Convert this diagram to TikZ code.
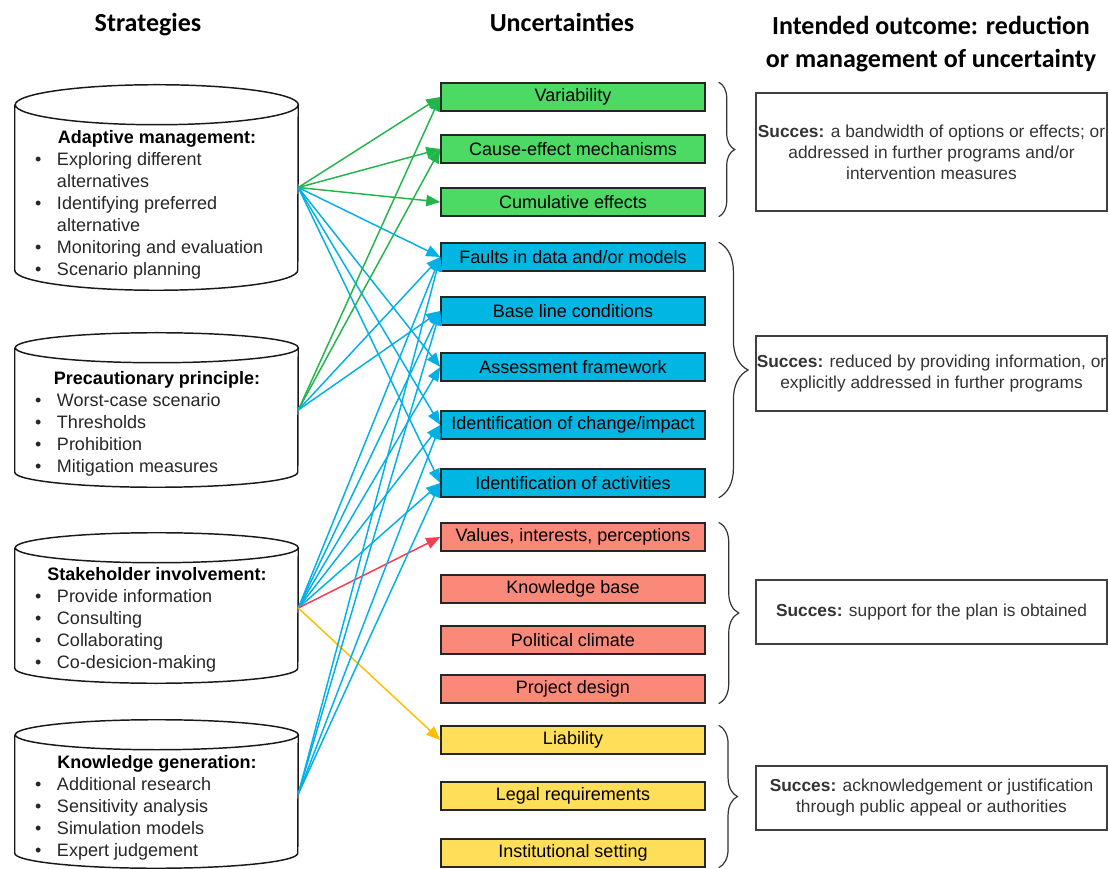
\documentclass[tikz,border=0pt]{standalone}
\usepackage{fontspec}
\setmainfont{Liberation Sans}
\newfontfamily\headfont{Carlito}
\usepackage{xcolor}
\usepackage{tikz}
\usetikzlibrary{positioning,arrows.meta,decorations.pathreplacing}

\definecolor{grfill}{RGB}{76,217,100}
\definecolor{blfill}{RGB}{0,183,228}
\definecolor{rdfill}{RGB}{250,137,122}
\definecolor{ylfill}{RGB}{255,222,89}
\definecolor{grline}{RGB}{34,181,76}
\definecolor{blline}{RGB}{0,176,230}
\definecolor{rdline}{RGB}{250,60,80}
\definecolor{ylline}{RGB}{255,190,0}

\tikzset{
  heading/.style={font=\headfont\bfseries\fontsize{19.5}{24.75}\selectfont, align=center},
  strategy/.style={rectangle, minimum width=212.25pt, inner sep=0pt},
  cylline/.style={line width=1.1pt, draw=black!90},
  strattext/.style={font=\fontsize{13.5}{16.5}\selectfont, text=black!85, inner sep=0pt},
  uncert/.style={draw=black!85, line width=1.1pt, minimum width=198pt, minimum height=21pt,
    inner sep=0pt, font=\fontsize{13.5}{16}\selectfont},
  outcome/.style={draw=black!75, line width=1.1pt, minimum width=263.25pt, align=center,
    inner sep=0pt, text=black!80, font=\fontsize{13}{15.75}\selectfont},
  conn/.style={-{Triangle[length=10.5pt,width=8.5pt]}, line width=1.1pt},
  grp/.style={decorate, line width=0.9pt, draw=black!80}
}

\begin{document}
\begin{tikzpicture}[x=0.75pt,y=0.75pt]
  \useasboundingbox (0,0) rectangle (1109,868);

  % column titles
  \node[heading, anchor=base] (Stra) at (148,836) {Strategies};
  \node[heading, anchor=base] (Unce) at (562,836) {Uncertainties};
  \node[heading] (Outc) at (931,824) {Intended outcome: reduction\\or management of uncertainty};

  % strategies (cylinders drawn around the nodes)
  \node[strategy, minimum height=153.75pt] (AdMa) at (156.5,680.5) {};
  \node[strategy, minimum height=115.5pt] (PrPr) at (156.5,458) {};
  \node[strategy, minimum height=112.5pt] (StIn) at (156.5,260) {};
  \node[strategy, minimum height=111pt] (KnGe) at (156.5,74) {};

  \draw[cylline] ([yshift=-15pt]AdMa.north west) -- ([yshift=15pt]AdMa.south west)
    arc[start angle=180, end angle=360, x radius=106.125pt, y radius=15pt]
    -- ([yshift=-15pt]AdMa.north east)
    arc[start angle=0, end angle=360, x radius=106.125pt, y radius=15pt];
  \draw[cylline] ([yshift=-11.25pt]PrPr.north west) -- ([yshift=11.25pt]PrPr.south west)
    arc[start angle=180, end angle=360, x radius=106.125pt, y radius=11.25pt]
    -- ([yshift=-11.25pt]PrPr.north east)
    arc[start angle=0, end angle=360, x radius=106.125pt, y radius=11.25pt];
  \draw[cylline] ([yshift=-11.25pt]StIn.north west) -- ([yshift=11.25pt]StIn.south west)
    arc[start angle=180, end angle=360, x radius=106.125pt, y radius=11.25pt]
    -- ([yshift=-11.25pt]StIn.north east)
    arc[start angle=0, end angle=360, x radius=106.125pt, y radius=11.25pt];
  \draw[cylline] ([yshift=-11.25pt]KnGe.north west) -- ([yshift=11.25pt]KnGe.south west)
    arc[start angle=180, end angle=360, x radius=106.125pt, y radius=11.25pt]
    -- ([yshift=-11.25pt]KnGe.north east)
    arc[start angle=0, end angle=360, x radius=106.125pt, y radius=11.25pt];

  \node[strattext] (AdMaT) at (157,663) {%
    \begin{tabular}{@{}p{7.5pt}@{\hspace{9pt}}p{166.5pt}@{}}
    \multicolumn{2}{c}{\textcolor{black}{\textbf{Adaptive management:}}}\\
    \textbullet & Exploring different\\
     & alternatives\\
    \textbullet & Identifying preferred\\
     & alternative\\
    \textbullet & Monitoring and evaluation\\
    \textbullet & Scenario planning
    \end{tabular}};
  \node[strattext] (PrPrT) at (157,444) {%
    \begin{tabular}{@{}p{7.5pt}@{\hspace{9pt}}p{166.5pt}@{}}
    \multicolumn{2}{c}{\textcolor{black}{\textbf{Precautionary principle:}}}\\
    \textbullet & Worst-case scenario\\
    \textbullet & Thresholds\\
    \textbullet & Prohibition\\
    \textbullet & Mitigation measures
    \end{tabular}};
  \node[strattext] (StInT) at (157,248) {%
    \begin{tabular}{@{}p{7.5pt}@{\hspace{9pt}}p{166.5pt}@{}}
    \multicolumn{2}{c}{\textcolor{black}{\textbf{Stakeholder involvement:}}}\\
    \textbullet & Provide information\\
    \textbullet & Consulting\\
    \textbullet & Collaborating\\
    \textbullet & Co-desicion-making
    \end{tabular}};
  \node[strattext] (KnGeT) at (157,60) {%
    \begin{tabular}{@{}p{7.5pt}@{\hspace{9pt}}p{166.5pt}@{}}
    \multicolumn{2}{c}{\textcolor{black}{\textbf{Knowledge generation:}}}\\
    \textbullet & Additional research\\
    \textbullet & Sensitivity analysis\\
    \textbullet & Simulation models\\
    \textbullet & Expert judgement
    \end{tabular}};

  % uncertainties
  \node[uncert, fill=grfill] (Vari) at (573,771) {Variability};
  \node[uncert, fill=grfill] (CaEf) at (573,719) {Cause-effect mechanisms};
  \node[uncert, fill=grfill] (Cumu) at (573,666) {Cumulative effects};

  \node[uncert, fill=blfill] (Faul) at (573,611) {Faults in data and/or models};
  \node[uncert, fill=blfill] (Base) at (573,557) {Base line conditions};
  \node[uncert, fill=blfill] (Asse) at (573,501) {Assessment framework};
  \node[uncert, fill=blfill] (IdCh) at (573,443) {Identification of change/impact};
  \node[uncert, fill=blfill] (IdAc) at (573,385) {Identification of activities};

  \node[uncert, fill=rdfill] (Valu) at (573,331) {Values, interests, perceptions};
  \node[uncert, fill=rdfill] (Know) at (573,279) {Knowledge base};
  \node[uncert, fill=rdfill] (Poli) at (573,228) {Political climate};
  \node[uncert, fill=rdfill] (Proj) at (573,179) {Project design};

  \node[uncert, fill=ylfill] (Liab) at (573,128) {Liability};
  \node[uncert, fill=ylfill] (Lega) at (573,72) {Legal requirements};
  \node[uncert, fill=ylfill] (Inst) at (573,15) {Institutional setting};

  % outcomes
  \node[outcome, minimum height=88.5pt] (SuVa) at (931.5,716) {\textbf{Succes:} a bandwidth of options or effects; or\\addressed in further programs and/or\\intervention measures};
  \node[outcome, minimum height=56.25pt] (SuFa) at (931.5,494.5) {\textbf{Succes:} reduced by providing information, or\\explicitly addressed in further programs};
  \node[outcome, minimum height=48pt] (SuVl) at (931.5,256) {\textbf{Succes:} support for the plan is obtained};
  \node[outcome, minimum height=48pt] (SuLi) at (931.5,70) {\textbf{Succes:} acknowledgement or justification\\through public appeal or authorities};

  % braces
  \draw[grp, decoration={brace, amplitude=12pt}] ([xshift=9.75pt]Vari.north east) -- ([xshift=9.75pt]Cumu.south east);
  \draw[grp, decoration={brace, amplitude=22pt}] ([xshift=9.75pt]Faul.north east) -- ([xshift=9.75pt]IdAc.south east);
  \draw[grp, decoration={brace, amplitude=15pt}] ([xshift=9.75pt]Valu.north east) -- ([xshift=9.75pt]Proj.south east);
  \draw[grp, decoration={brace, amplitude=14pt}] ([xshift=9.75pt]Liab.north east) -- ([xshift=9.75pt]Inst.south east);

  % adaptive management
  \draw[conn,draw=grline,fill=grline] (AdMa.east) to (Vari.west);
  \draw[conn,draw=grline,fill=grline] (AdMa.east) to (CaEf.west);
  \draw[conn,draw=grline,fill=grline] (AdMa.east) to (Cumu.west);
  \draw[conn,draw=blline,fill=blline] (AdMa.east) to (Faul.west);
  \draw[conn,draw=blline,fill=blline] (AdMa.east) to (Asse.west);
  \draw[conn,draw=blline,fill=blline] (AdMa.east) to (IdCh.west);
  \draw[conn,draw=blline,fill=blline] (AdMa.east) to (IdAc.west);

  % precautionary principle
  \draw[conn,draw=grline,fill=grline] (PrPr.east) to (Vari.west);
  \draw[conn,draw=grline,fill=grline] (PrPr.east) to (CaEf.west);
  \draw[conn,draw=blline,fill=blline] (PrPr.east) to (Faul.west);
  \draw[conn,draw=blline,fill=blline] (PrPr.east) to (Base.west);

  % stakeholder involvement
  \draw[conn,draw=blline,fill=blline] (StIn.east) to (Faul.west);
  \draw[conn,draw=blline,fill=blline] (StIn.east) to (Base.west);
  \draw[conn,draw=blline,fill=blline] (StIn.east) to (Asse.west);
  \draw[conn,draw=blline,fill=blline] (StIn.east) to (IdCh.west);
  \draw[conn,draw=blline,fill=blline] (StIn.east) to (IdAc.west);
  \draw[conn,draw=rdline,fill=rdline] (StIn.east) to (Valu.west);
  \draw[conn,draw=ylline,fill=ylline] (StIn.east) to (Liab.west);

  % knowledge generation
  \draw[conn,draw=blline,fill=blline] (KnGe.east) to (Faul.west);
  \draw[conn,draw=blline,fill=blline] (KnGe.east) to (Base.west);
  \draw[conn,draw=blline,fill=blline] (KnGe.east) to (IdCh.west);
  \draw[conn,draw=blline,fill=blline] (KnGe.east) to (IdAc.west);

\end{tikzpicture}
\end{document}
